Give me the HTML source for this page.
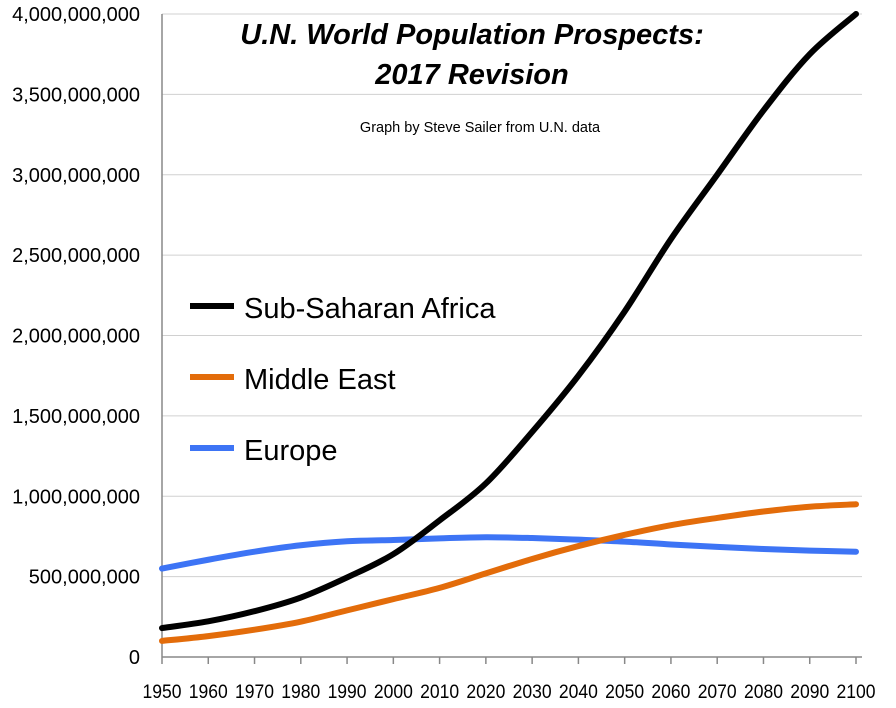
<!DOCTYPE html>
<html><head><meta charset="utf-8"><style>
body{margin:0;background:#fff;width:896px;height:708px;overflow:hidden}
svg{display:block;font-family:"Liberation Sans",sans-serif}
</style></head><body>
<svg id="chart" width="896" height="708" viewBox="0 0 896 708">
<g id="grid"></g>
<g id="yticks"></g>
<g id="xticks"></g>
<g id="series"></g>
<text x="472" y="44" text-anchor="middle" font-size="29" font-weight="bold" font-style="italic">U.N. World Population Prospects:</text>
<text x="472" y="84" text-anchor="middle" font-size="29" font-weight="bold" font-style="italic">2017 Revision</text>
<text x="480" y="132" text-anchor="middle" font-size="14.5">Graph by Steve Sailer from U.N. data</text>
<g>
<g><line x1="190" y1="306" x2="234" y2="306" stroke="#000" stroke-width="6"/><text x="244" y="318" font-size="29">Sub-Saharan Africa</text></g>
<g><line x1="190" y1="377" x2="234" y2="377" stroke="#e36c0a" stroke-width="6"/><text x="244" y="389" font-size="29">Middle East</text></g>
<g><line x1="190" y1="448" x2="234" y2="448" stroke="#3d74f5" stroke-width="6"/><text x="244" y="460" font-size="29">Europe</text></g>
</g>
</svg>
<script>
const years=[1950,1960,1970,1980,1990,2000,2010,2020,2030,2040,2050,2060,2070,2080,2090,2100];
const africa=[180,222,285,370,495,640,850,1080,1400,1750,2150,2600,3000,3400,3750,4000];
const middleEast=[100,130,170,220,290,360,430,520,610,690,760,820,865,905,935,950];
const europe=[550,605,655,695,720,728,738,745,740,730,718,700,685,672,662,655];
const yTickLabels=["0","500,000,000","1,000,000,000","1,500,000,000","2,000,000,000","2,500,000,000","3,000,000,000","3,500,000,000","4,000,000,000"];
const yTickValues=[0,500,1000,1500,2000,2500,3000,3500,4000];
const xTickLabels=["1950","1960","1970","1980","1990","2000","2010","2020","2030","2040","2050","2060","2070","2080","2090","2100"];
const NS="http://www.w3.org/2000/svg";
const x0=162,x1=856,y0=657,y1=14;
const xs=v=>x0+(v-1950)/150*(x1-x0);
const ys=v=>y0-v/4000*(y0-y1);
function mk(t,a,p){const e=document.createElementNS(NS,t);for(const k in a)e.setAttribute(k,a[k]);p.appendChild(e);return e;}
const grid=document.getElementById('grid'),yt=document.getElementById('yticks'),xt=document.getElementById('xticks'),ser=document.getElementById('series');
yTickValues.forEach((v,i)=>{
 if(v>0){const g=mk('line',{x1:x0,x2:862,y1:ys(v),y2:ys(v),stroke:'#d0d0d0','stroke-width':1},grid);
 
 }
 const t=mk('text',{x:140,y:ys(v)+7,'text-anchor':'end','font-size':20},yt);
 t.textContent=yTickLabels[i];
 
 
});
mk('line',{x1:x0,x2:x0,y1:y1,y2:y0,stroke:'#888','stroke-width':1.5},yt);
mk('line',{x1:x0,x2:862,y1:y0,y2:y0,stroke:'#888','stroke-width':1.5},xt);
years.forEach((yr,i)=>{
 mk('line',{x1:xs(yr),x2:xs(yr),y1:y0,y2:y0+7,stroke:'#888','stroke-width':1.5},xt);
 const t=mk('text',{x:xs(yr),y:698,'text-anchor':'middle','font-size':19,textLength:39,lengthAdjust:'spacingAndGlyphs'},xt);
 t.textContent=xTickLabels[i];
 
 
});
function line(data,color,name){
 const pts=data.map((v,i)=>[xs(years[i]),ys(v)]);
 let d='M'+pts[0][0]+','+pts[0][1];
 for(let i=0;i<pts.length-1;i++){
  const p0=pts[Math.max(0,i-1)],p1=pts[i],p2=pts[i+1],p3=pts[Math.min(pts.length-1,i+2)];
  d+=' C'+(p1[0]+(p2[0]-p0[0])/6)+','+(p1[1]+(p2[1]-p0[1])/6)+' '+(p2[0]-(p3[0]-p1[0])/6)+','+(p2[1]-(p3[1]-p1[1])/6)+' '+p2[0]+','+p2[1];
 }
 const p=mk('path',{d:d,fill:'none',stroke:color,'stroke-width':6,'stroke-linecap':'round'},ser);
 
 
}
line(europe,'#3d74f5','europe-line');
line(middleEast,'#e36c0a','middle-east-line');
line(africa,'#000','sub-saharan-africa-line');
</script>
</body></html>
